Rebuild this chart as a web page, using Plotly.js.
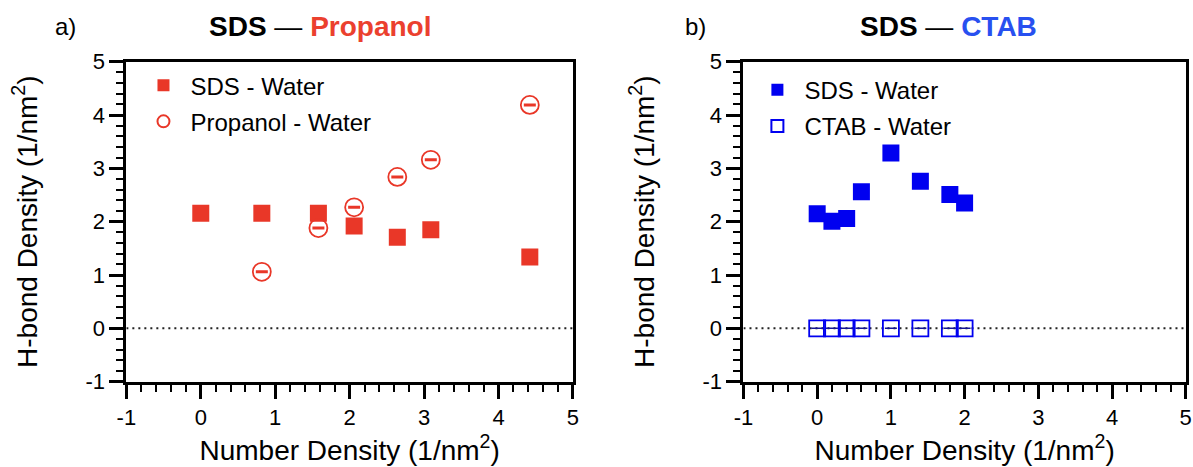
<!DOCTYPE html>
<html>
<head>
<meta charset="utf-8">
<script src="https://cdn.plot.ly/plotly-3.0.1.min.js"></script>
<style>html,body{margin:0;padding:0;background:#fff;}#chart{width:1193px;height:467px;}</style>
</head>
<body>
<div id="chart"></div>
<script>
// Panel a) SDS — Propanol
const sdsPropX = [0, 0.82, 1.58, 2.06, 2.64, 3.09, 4.42];
const sdsPropY = [2.16, 2.16, 2.16, 1.92, 1.71, 1.85, 1.34];
const propX = [0.82, 1.58, 2.06, 2.64, 3.09, 4.42];
const propY = [1.06, 1.88, 2.27, 2.84, 3.16, 4.19];
// Panel b) SDS — CTAB
const sdsCtabX = [0, 0.2, 0.4, 0.6, 1.0, 1.4, 1.8, 2.0];
const sdsCtabY = [2.15, 2.01, 2.06, 2.56, 3.29, 2.76, 2.51, 2.35];
const ctabX = [0, 0.2, 0.4, 0.6, 1.0, 1.4, 1.8, 2.0];
const ctabY = [0, 0, 0, 0, 0, 0, 0, 0];
const tickVals = [-1, 0, 1, 2, 3, 4, 5];
const tickText = ['-1', '0', '1', '2', '3', '4', '5'];

const RED = 'rgb(233,55,40)';
const BLUE = 'rgb(0,0,240)';
const FONT = 'Liberation Sans, Arial, sans-serif';

const zeros = a => a.map(() => 0);

const traces = [
  {x: sdsPropX, y: sdsPropY, type: 'scatter', mode: 'markers', name: 'SDS - Water',
   xaxis: 'x', yaxis: 'y', legend: 'legend', legendgroup: 'a1',
   marker: {symbol: 'square', size: 17, color: RED}},
  {x: propX, y: propY, type: 'scatter', mode: 'markers', name: 'Propanol - Water',
   xaxis: 'x', yaxis: 'y', legend: 'legend', legendgroup: 'a2',
   marker: {symbol: 'circle-open', size: 18, color: RED, line: {width: 1.8, color: RED}},
   error_y: {type: 'data', array: zeros(propX), visible: true, width: 6, thickness: 3, color: RED}},
  {x: sdsCtabX, y: sdsCtabY, type: 'scatter', mode: 'markers', name: 'SDS - Water',
   xaxis: 'x2', yaxis: 'y2', legend: 'legend2', legendgroup: 'b1',
   marker: {symbol: 'square', size: 17, color: BLUE}},
  {x: ctabX, y: ctabY, type: 'scatter', mode: 'markers', name: 'CTAB - Water',
   xaxis: 'x2', yaxis: 'y2', legend: 'legend2', legendgroup: 'b2',
   marker: {symbol: 'square-open', size: 16, color: BLUE, line: {width: 1.8, color: BLUE}},
   error_y: {type: 'data', array: zeros(ctabX), visible: true, width: 6, thickness: 1.5, color: 'rgb(20,20,150)'}}
];

function xax(domain) {
  return {
    domain: domain, range: [-1, 5], autorange: false,
    tickmode: 'array', tickvals: tickVals, ticktext: tickText,
    ticks: 'outside', ticklen: 14, tickwidth: 3, tickcolor: '#000',
    minor: {dtick: 0.2, tick0: 0, ticks: 'outside', ticklen: 7, tickwidth: 2, tickcolor: '#000', showgrid: false},
    showline: true, linewidth: 3, linecolor: '#000', mirror: true,
    showgrid: false, zeroline: false, ticklabeloverflow: 'allow',
    tickfont: {family: FONT, size: 22, color: '#000'},
    title: {text: 'Number Density (1/nm<sup>2</sup>)', font: {family: FONT, size: 28, color: '#000'}, standoff: 12}
  };
}
function yax(anchor) {
  return {
    domain: [0.1827, 0.8679], range: [-1, 5], autorange: false, anchor: anchor,
    tickmode: 'array', tickvals: tickVals, ticktext: tickText,
    ticks: 'outside', ticklen: 14, tickwidth: 3, tickcolor: '#000',
    minor: {dtick: 0.2, tick0: 0, ticks: 'outside', ticklen: 7, tickwidth: 2, tickcolor: '#000', showgrid: false},
    showline: true, linewidth: 3, linecolor: '#000', mirror: true,
    showgrid: false, zeroline: false, ticklabeloverflow: 'allow',
    tickfont: {family: FONT, size: 22, color: '#000'},
    title: {text: 'H-bond Density (1/nm<sup>2</sup>)', font: {family: FONT, size: 28, color: '#000'}, standoff: 40}
  };
}

const layout = {
  width: 1193, height: 467,
  margin: {l: 0, r: 0, t: 0, b: 0},
  paper_bgcolor: '#fff', plot_bgcolor: '#fff',
  showlegend: true,
  xaxis: Object.assign(xax([0.1059, 0.4803]), {anchor: 'y'}),
  yaxis: yax('x'),
  xaxis2: Object.assign(xax([0.6232, 0.9939]), {anchor: 'y2'}),
  yaxis2: yax('x2'),
  legend: {x: 0.1144, y: 0.865, xanchor: 'left', yanchor: 'top', bgcolor: 'rgba(0,0,0,0)', itemwidth: 44,
           font: {family: FONT, size: 24, color: '#000'}, tracegroupgap: 2, itemsizing: 'constant'},
  legend2: {x: 0.629, y: 0.855, xanchor: 'left', yanchor: 'top', bgcolor: 'rgba(0,0,0,0)', itemwidth: 44,
           font: {family: FONT, size: 24, color: '#000'}, tracegroupgap: 2, itemsizing: 'constant'},
  shapes: [
    {type: 'line', xref: 'x', yref: 'y', x0: -1, x1: 5, y0: 0, y1: 0, layer: 'below',
     line: {color: '#222', width: 2, dash: '2px,4px'}},
    {type: 'line', xref: 'x2', yref: 'y2', x0: -1, x1: 5, y0: 0, y1: 0, layer: 'below',
     line: {color: '#222', width: 2, dash: '2px,4px'}}
  ],
  annotations: [
    {xref: 'paper', yref: 'paper', x: 65/1193, y: 1 - 27/467, xanchor: 'center', yanchor: 'middle', showarrow: false,
     text: 'a)', font: {family: FONT, size: 24, color: '#000'}},
    {xref: 'paper', yref: 'paper', x: 320/1193, y: 1 - 27/467, xanchor: 'center', yanchor: 'middle', showarrow: false,
     text: '<b>SDS</b> — <b><span style="color:rgb(235,64,46)">Propanol</span></b>', font: {family: FONT, size: 28, color: '#000'}},
    {xref: 'paper', yref: 'paper', x: 695/1193, y: 1 - 27/467, xanchor: 'center', yanchor: 'middle', showarrow: false,
     text: 'b)', font: {family: FONT, size: 24, color: '#000'}},
    {xref: 'paper', yref: 'paper', x: 948/1193, y: 1 - 27/467, xanchor: 'center', yanchor: 'middle', showarrow: false,
     text: '<b>SDS</b> — <b><span style="color:rgb(40,80,240)">CTAB</span></b>', font: {family: FONT, size: 28, color: '#000'}}
  ]
};

Plotly.newPlot('chart', traces, layout, {displayModeBar: false, staticPlot: true});
</script>
</body>
</html>
